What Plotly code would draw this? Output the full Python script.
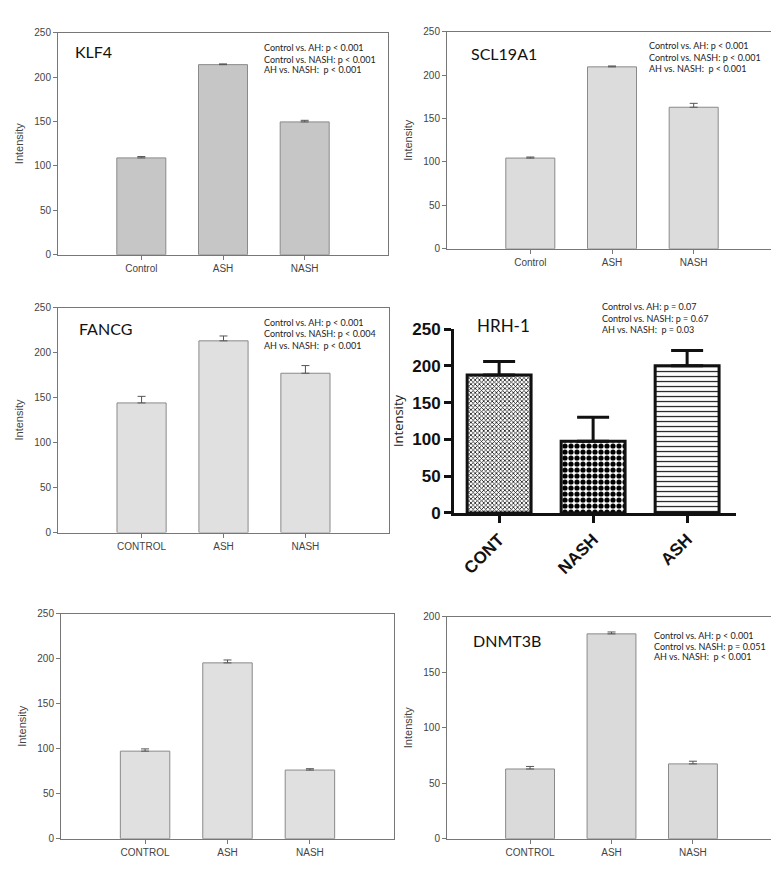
import plotly.graph_objects as go

W, H = 779, 873

# ---------------- data ----------------
cats_a = ["Control", "ASH", "NASH"]
cats_b = ["CONTROL", "ASH", "NASH"]
hrh_cats = ["CONT", "NASH", "ASH"]

klf4_vals = [109, 214, 149.5]
klf4_err = [1.5, 0.8, 1.8]

scl_vals = [104.5, 209.5, 163]
scl_err = [1.2, 1.0, 4.5]

fancg_vals = [144, 213, 177]
fancg_err = [7.3, 5.4, 8.5]

hrh_vals = [187.5, 97.5, 200]
hrh_err = [18.5, 32.5, 21]

p5_vals = [97.3, 195.4, 76.3]
p5_err = [2.5, 3.2, 1.5]

dnmt_vals = [62.8, 184.5, 67.4]
dnmt_err = [2.3, 1.7, 2.4]

y_ticks = [0, 50, 100, 150, 200, 250]

klf4_stats = ["Control vs. AH: p < 0.001", "Control vs. NASH: p < 0.001", "AH vs. NASH:  p < 0.001"]
scl_stats = ["Control vs. AH: p < 0.001", "Control vs. NASH: p < 0.001", "AH vs. NASH:  p < 0.001"]
fancg_stats = ["Control vs. AH: p < 0.001", "Control vs. NASH: p < 0.004", "AH vs. NASH:  p < 0.001"]
hrh_stats = ["Control vs. AH: p = 0.07", "Control vs. NASH: p = 0.67", "AH vs. NASH:  p = 0.03"]
dnmt_stats = ["Control vs. AH: p < 0.001", "Control vs. NASH: p = 0.051", "AH vs. NASH:  p < 0.001"]


def px_x(p):
    return p / W


def px_y(p):
    return 1 - p / H


fig = go.Figure()

TICK_FONT = dict(family="Liberation Sans, Arial", size=10, color="#444")
ANN_FONT = dict(family="Lato, Open Sans", size=9, color="#222")

sigma_panels = [
    (1, cats_a, klf4_vals, klf4_err, "#c6c6c6", (50, 380), (16, 243), 250),
    (2, cats_a, scl_vals, scl_err, "#dcdcdc", (439, 769), (15, 237), 250),
    (3, cats_b, fancg_vals, fancg_err, "#e0e0e0", (50, 381), (297, 527), 250),
    (5, cats_b, p5_vals, p5_err, "#e0e0e0", (53, 386), (610, 840), 250),
    (6, cats_b, dnmt_vals, dnmt_err, "#dadada", (439, 768), (613, 840), 200),
]

layout_axes = {}
for idx, cats, vals, err, col, xd, yd, ymax in sigma_panels:
    xa = "x" if idx == 1 else f"x{idx}"
    ya = "y" if idx == 1 else f"y{idx}"
    fig.add_trace(go.Bar(
        x=cats, y=vals, xaxis=xa, yaxis=ya, width=0.6,
        marker=dict(color=col, line=dict(color="#8a8a8a", width=1)),
        error_y=dict(type="data", array=err, arrayminus=[0, 0, 0], symmetric=False,
                     color="#555", thickness=1, width=4),
        showlegend=False,
    ))
    xkey = "xaxis" if idx == 1 else f"xaxis{idx}"
    ykey = "yaxis" if idx == 1 else f"yaxis{idx}"
    layout_axes[xkey] = dict(
        domain=[px_x(xd[0]), px_x(xd[1])], anchor=ya, range=[-1.02, 3.02],
        showline=True, linecolor="#777", linewidth=1, mirror=True,
        ticks="outside", ticklen=4, tickcolor="#777", showgrid=False,
        tickfont=TICK_FONT, zeroline=False,
    )
    layout_axes[ykey] = dict(
        domain=[px_y(yd[1]), px_y(yd[0])], anchor=xa, range=[0, ymax], dtick=50,
        showline=True, linecolor="#777", linewidth=1, mirror=True,
        ticks="outside", ticklen=4, tickcolor="#777", showgrid=False,
        tickfont=TICK_FONT, zeroline=False,
        title=dict(text="Intensity", font=dict(family="Liberation Sans, Arial", size=11, color="#444"),
                   standoff=8),
    )

# HRH-1 panel (GraphPad style)
hrh_patterns = [
    dict(shape="x", size=3, solidity=0.45, fgcolor="#111", fgopacity=1, bgcolor="#ffffff"),
    dict(shape=".", size=6, solidity=0.6, fgcolor="#000", fgopacity=1, bgcolor="#ffffff"),
    dict(shape="-", size=5, solidity=0.25, fgcolor="#222", fgopacity=1, bgcolor="#ffffff"),
]
for i, c in enumerate(hrh_cats):
    fig.add_trace(go.Bar(
        x=[c], y=[hrh_vals[i]], xaxis="x4", yaxis="y4", width=0.68,
        marker=dict(color="#ffffff", pattern=hrh_patterns[i], line=dict(color="#111", width=3)),
        error_y=dict(type="data", array=[hrh_err[i]], arrayminus=[0], symmetric=False,
                     color="#111", thickness=3, width=16),
        showlegend=False,
    ))
layout_axes["xaxis4"] = dict(
    domain=[px_x(446), px_x(728)], anchor="y4", range=[-0.48, 2.52],
    categoryorder="array", categoryarray=hrh_cats,
    tickvals=hrh_cats, ticktext=[f"<b>{c}</b>" for c in hrh_cats],
    showline=True, linecolor="#111", linewidth=3, mirror=False,
    ticks="outside", ticklen=7, tickwidth=3, tickcolor="#111", showgrid=False,
    tickangle=-45, tickfont=dict(family="Liberation Sans, Arial", size=17, color="#111"),
    zeroline=False,
)
layout_axes["yaxis4"] = dict(
    domain=[px_y(507), px_y(319)], anchor="x4", range=[0, 250],
    tickvals=y_ticks, ticktext=[f"<b>{v}</b>" for v in y_ticks],
    showline=True, linecolor="#111", linewidth=3, mirror=False,
    ticks="outside", ticklen=7, tickwidth=3, tickcolor="#111", showgrid=False,
    tickfont=dict(family="Liberation Sans, Arial", size=17, color="#111"),
    zeroline=False,
    title=dict(text="Intensity", font=dict(family="Open Sans, Liberation Sans", size=13, color="#222"),
               standoff=6),
)

fig.update_layout(**layout_axes)

annotations = []


def add_title(text, x, y, size=16):
    annotations.append(dict(text=text, x=px_x(x), y=px_y(y), xref="paper", yref="paper",
                            xanchor="left", yanchor="middle", align="left", showarrow=False,
                            font=dict(family="Lato, Open Sans", size=size, color="#111")))


def add_stats(lines, x, ys):
    for t, y in zip(lines, ys):
        annotations.append(dict(text=t, x=px_x(x), y=px_y(y), xref="paper", yref="paper",
                                xanchor="left", yanchor="middle", align="left", showarrow=False,
                                font=ANN_FONT))


add_title("KLF4", 65, 35)
add_stats(klf4_stats, 254, [31, 43, 54])
add_title("SCL19A1", 461, 37)
add_stats(scl_stats, 639, [29, 41, 53])
add_title("FANCG", 69, 318)
add_stats(fancg_stats, 254, [312, 324, 336])
add_title("HRH-1", 467, 315, size=17)
add_stats(hrh_stats, 592, [296, 308, 319])
add_title("DNMT3B", 463, 637)
add_stats(dnmt_stats, 644, [632, 643, 654])

fig.update_layout(
    width=W, height=H, margin=dict(l=0, r=0, t=0, b=0),
    paper_bgcolor="white", plot_bgcolor="white",
    annotations=annotations, bargap=0.4,
)

fig.write_html("out.html")
